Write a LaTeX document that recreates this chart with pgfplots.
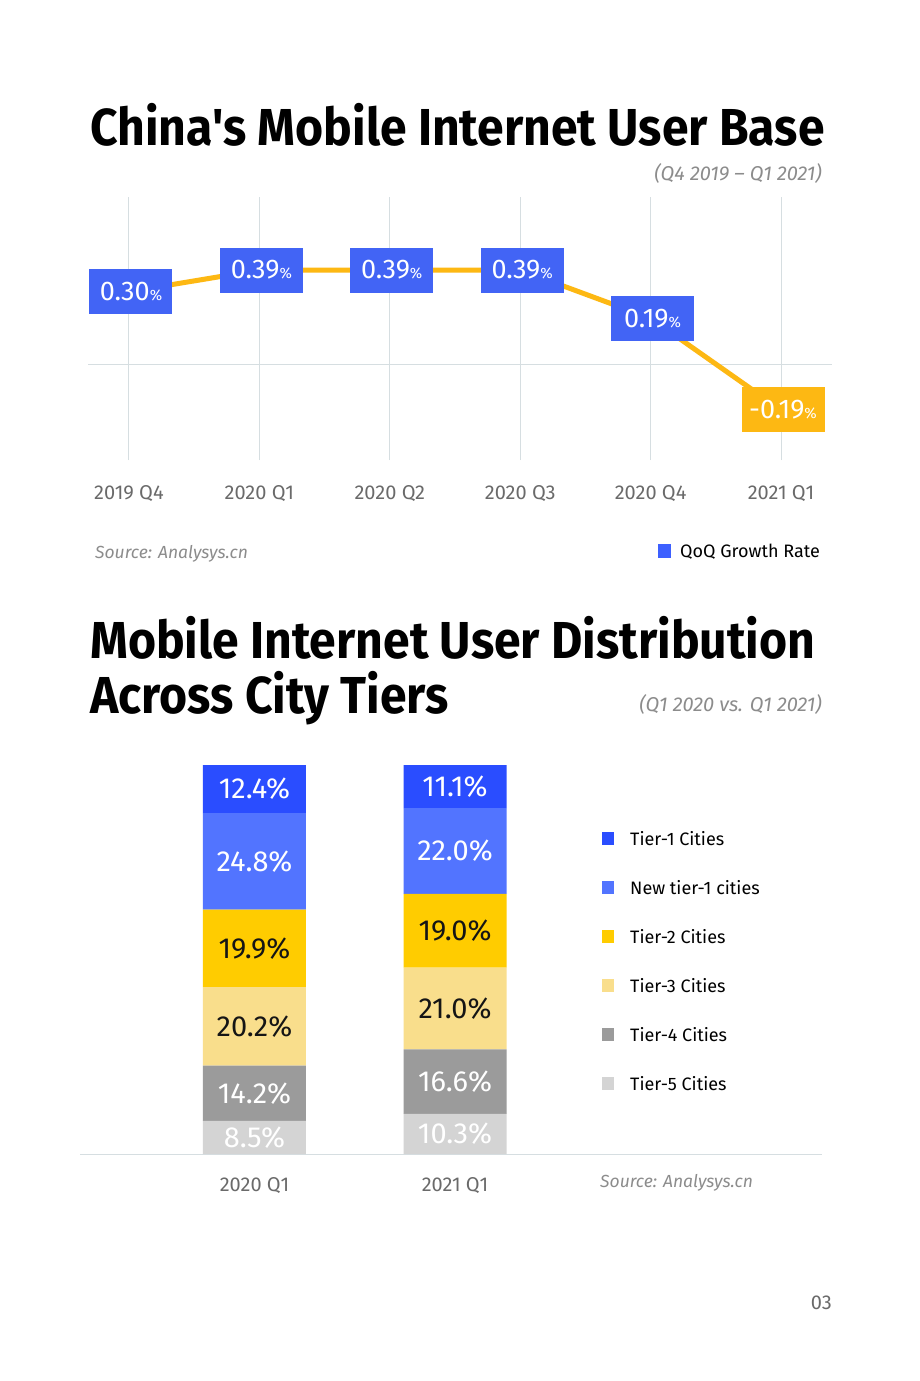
\documentclass[border=0pt]{standalone}
\usepackage{pgfplots}
\pgfplotsset{compat=1.18}
\usepackage{fontspec}
\setmainfont{Fira Sans}
\newfontfamily\titlefam[Ligatures=TeXOff,FakeStretch=0.925]{Fira Sans}

\definecolor{gridc}{HTML}{D6DEE1}
\definecolor{tickc}{HTML}{6A6A6A}
\definecolor{srcc}{HTML}{8C8C8C}
\definecolor{lineorange}{HTML}{FDB813}
\definecolor{boxblue}{HTML}{4264F5}
\definecolor{legblue}{HTML}{3D60FF}
\definecolor{tierA}{HTML}{2A4DFF}
\definecolor{tierB}{HTML}{5274FF}
\definecolor{tierC}{HTML}{FFCC00}
\definecolor{tierD}{HTML}{F9DE8C}
\definecolor{tierE}{HTML}{9B9B9B}
\definecolor{tierF}{HTML}{D4D4D4}
\definecolor{darktext}{HTML}{151515}

\newcommand{\titlefont}{\titlefam\bfseries\fontsize{52}{58}\selectfont}
\newcommand{\legfont}{\fontsize{18}{22}\selectfont}
\newcommand{\notefont}{\fontsize{17.5}{21}\selectfont\itshape}
\newcommand{\subfont}{\fontsize{20}{24}\selectfont\itshape}

\begin{document}
\begin{tikzpicture}[x=1pt,y=1pt]
\fill[white] (0,0) rectangle (920,-1381);
\useasboundingbox (0,0) rectangle (920,-1381);

% ---------- Quarterly growth of mobile internet users ----------
\node[anchor=base west,inner sep=0] at (90,-145) {\titlefont China's Mobile Internet User Base};
\node[anchor=base east,inner sep=0,text=srcc] at (822,-180) {\subfont (Q4 2019 – Q1 2021)};

\begin{axis}[
  at={(88pt,-460pt)}, anchor=south west,
  scale only axis, width=744pt, height=263pt,
  xmin=-0.314, xmax=5.391, ymin=-0.398, ymax=0.693,
  axis line style={draw=none}, tick style={draw=none},
  xtick={0,1,2,3,4,5},
  xticklabels={2019 Q4,2020 Q1,2020 Q2,2020 Q3,2020 Q4,2021 Q1},
  xticklabel style={anchor=base,yshift=-39pt,text=tickc,font=\fontsize{20}{24}\selectfont},
  ytick={0}, yticklabels={},
  xmajorgrids, ymajorgrids,
  grid style={draw=gridc,line width=1pt},
  /pgf/number format/assume math mode=true,
  point meta=explicit symbolic,
  nodes near coords={\pgfplotspointmeta{\fontsize{15}{15}\selectfont\%}},
  nodes near coords align={center},
  every node near coord/.append style={anchor=center,text=white,
    minimum width=83pt,minimum height=45pt,inner sep=0pt,xshift=2pt,
    font=\fontsize{27}{29}\selectfont},
  legend style={at={(0.984,-0.354)},anchor=east,draw=none,fill=none,
    inner sep=0pt,column sep=10pt,
    nodes={inner sep=0pt,text height=13pt,text depth=4pt},
    font=\legfont},
]
\addplot[lineorange,line width=5pt,no marks,nodes near coords=,forget plot]
  coordinates {(0,0.30) (1,0.39) (2,0.39) (3,0.39) (4,0.19) (5,-0.19)};
\addplot[draw=none,no marks,forget plot,
  every node near coord/.append style={fill=boxblue}]
  coordinates {(0,0.30) [0.30] (1,0.39) [0.39] (2,0.39) [0.39] (3,0.39) [0.39] (4,0.19) [0.19]};
\addplot[draw=none,no marks,forget plot,
  every node near coord/.append style={fill=lineorange}]
  coordinates {(5,-0.19) [-0.19]};
\addlegendimage{legend image code/.code={\fill[legblue] (0pt,-4pt) rectangle (12pt,9pt);}}
\addlegendentry{QoQ Growth Rate}
\end{axis}

\node[anchor=base west,inner sep=0,text=srcc] at (95,-558) {\notefont Source: Analysys.cn};

% ---------- User distribution across city tiers ----------
\node[anchor=base west,inner sep=0] at (90,-658) {\titlefont Mobile Internet User Distribution};
\node[anchor=base west,inner sep=0] at (90,-713) {\titlefont Across City Tiers};
\node[anchor=base east,inner sep=0,text=srcc] at (822,-711) {\subfont (Q1 2020 vs. Q1 2021)};

% stacked bars: each label sits in the middle of its own segment
\begin{axis}[
  at={(80pt,-1154pt)}, anchor=south west,
  scale only axis, width=742pt, height=389pt,
  xmin=-0.870, xmax=2.830, ymin=0, ymax=100,
  ybar stacked, bar width=103pt,
  axis x line*=bottom, axis y line=none,
  x axis line style={draw=gridc,line width=1pt,-},
  tick style={draw=none},
  xtick={0,1}, xticklabels={2020 Q1,2021 Q1},
  xticklabel style={anchor=base,yshift=-37pt,text=tickc,font=\fontsize{20}{24}\selectfont},
  /pgf/number format/assume math mode=true,
  visualization depends on=rawy\as\rawy,
  nodes near coords={\pgfmathprintnumber[fixed,fixed zerofill,precision=1]{\rawy}\%},
  nodes near coords align={center},
  seg/.style={every node near coord/.append style={anchor=center,text=#1,
    font=\fontsize{29}{31}\selectfont}},
  reverse legend,
  legend style={at={(0.7035,0.8278)},anchor=north west,draw=none,fill=none,
    inner sep=0pt,row sep=31.5pt,column sep=16pt,
    nodes={inner sep=0pt,text height=13pt,text depth=4pt},
    font=\legfont},
  legend cell align=left,
  legend image code/.code={\fill[#1] (0pt,-4pt) rectangle (12pt,9pt);},
]
\addplot[fill=tierF,draw=none,seg=white]
  coordinates {(0,8.5) (1,10.3)};
\addplot[fill=tierE,draw=none,seg=white]
  coordinates {(0,14.2) (1,16.6)};
\addplot[fill=tierD,draw=none,seg=darktext]
  coordinates {(0,20.2) (1,21.0)};
\addplot[fill=tierC,draw=none,seg=darktext]
  coordinates {(0,19.9) (1,19.0)};
\addplot[fill=tierB,draw=none,seg=white]
  coordinates {(0,24.8) (1,22.0)};
\addplot[fill=tierA,draw=none,seg=white]
  coordinates {(0,12.4) (1,11.1)};
\legend{Tier-5 Cities,Tier-4 Cities,Tier-3 Cities,Tier-2 Cities,New tier-1 cities,Tier-1 Cities}
\end{axis}

\node[anchor=base west,inner sep=0,text=srcc] at (600,-1187) {\notefont Source: Analysys.cn};
\node[anchor=base east,inner sep=0,text=tickc] at (832,-1309) {\fontsize{20}{24}\selectfont 03};
\end{tikzpicture}
\end{document}
